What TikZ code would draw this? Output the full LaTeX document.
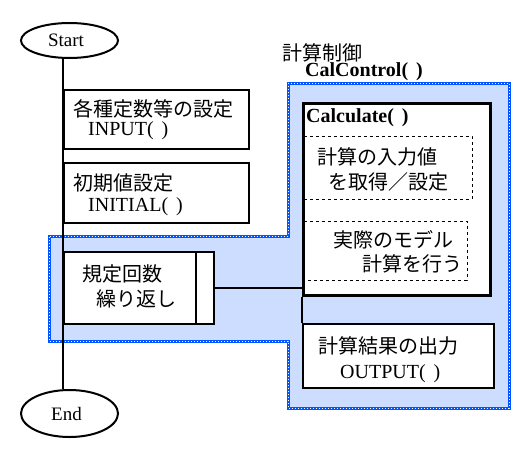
\documentclass[tikz,border=0pt]{standalone}
\usepackage{fontspec}
\setmainfont{Liberation Serif}
\newfontfamily\jp{Noto Sans CJK JP}
\usetikzlibrary{shapes.geometric}
\definecolor{bluefill}{RGB}{204,221,255}
\definecolor{blueedge}{RGB}{0,85,255}
\newcommand{\pp}{(\hspace{8pt})}
\begin{document}
\begin{tikzpicture}[x=1pt,y=-1pt,
  box/.style={draw,line width=2pt,fill=white,inner sep=0pt,anchor=north west},
  term/.style={draw,ellipse,line width=2pt,fill=white,inner sep=0pt,font=\fontsize{19}{21}\selectfont},
  jtxt/.style={inner sep=0pt,anchor=west,font=\jp\fontsize{20}{22}\selectfont},
  ltxt/.style={inner sep=0pt,anchor=west,font=\fontsize{20}{22}\selectfont},
  btxt/.style={inner sep=0pt,anchor=west,font=\bfseries\fontsize{20}{22}\selectfont},
  dline/.style={line width=1pt,dash pattern=on 3pt off 3pt},
  conn/.style={line width=2pt}]
\useasboundingbox (0,0) rectangle (530,450);
% blue region
\fill[bluefill] (288,83) -- (509,83) -- (509,408) -- (288,408) -- (288,341) -- (49,341) -- (49,236) -- (288,236) -- cycle;
\draw[blueedge,line width=3pt] (288,83) -- (509,83) -- (509,408) -- (288,408) -- (288,341) -- (49,341) -- (49,236) -- (288,236) -- cycle;
\draw[white,line width=1pt,dash pattern=on 1pt off 2pt] (288,83) -- (509,83) -- (509,408) -- (288,408) -- (288,341) -- (49,341) -- (49,236) -- (288,236) -- cycle;
% terminals
\node[term,minimum width=97pt,minimum height=35pt] (start) at (69.5,40.5) {\hspace{-7pt}Start};
\node[term,minimum width=97pt,minimum height=47pt] (end) at (69.5,413.5) {\hspace{-6pt}End};
% left boxes
\node[box,minimum width=185pt,minimum height=59pt] (input) at (63,89) {};
\node[jtxt] (inputj) at (73,109) {各種定数等の設定};
\node[ltxt] (inputl) at (88,131) {INPUT\pp};
\node[box,minimum width=185pt,minimum height=60pt] (initial) at (63,162) {};
\node[jtxt] (initj) at (73,183) {初期値設定};
\node[ltxt] (initl) at (88,207) {INITIAL\pp};
\node[box,minimum width=150pt,minimum height=72pt] (loop) at (63,251) {};
\draw[conn] ([xshift=-19pt]loop.north east) -- ([xshift=-19pt]loop.south east);
\node[jtxt] (loopj1) at (82,274) {規定回数};
\node[jtxt] (loopj2) at (96,299) {繰り返し};
% label
\node[jtxt] (ctrlj) at (282,53) {計算制御};
\node[btxt] (ctrll) at (305,72) {CalControl\pp};
% calculate box
\node[box,line width=3pt,minimum width=187pt,minimum height=192pt] (calc) at (302,102) {};
\node[btxt] (calcl) at (306,118) {Calculate\pp};
\coordinate (d1a) at (304,136);
\coordinate (d1b) at (472,199);
\draw[dline] (d1a) -- (d1a -| d1b) -- (d1b) -- (d1b -| d1a);
\node[jtxt] (d1j1) at (317,157) {計算の入力値};
\node[jtxt] (d1j2) at (328,182) {を取得／設定};
\coordinate (d2a) at (304,221);
\coordinate (d2b) at (467,280);
\draw[dline] (d2a) -- (d2a -| d2b) -- (d2b) -- (d2b -| d2a);
\node[jtxt] (d2j1) at (333,240) {実際のモデル};
\node[jtxt] (d2j2) at (362,264) {計算を行う};
% output box
\node[box,minimum width=191pt,minimum height=64pt] (output) at (302,323) {};
\node[jtxt] (outj) at (318,346) {計算結果の出力};
\node[ltxt] (outl) at (340,374) {OUTPUT\pp};
% connectors
\draw[conn] (start.south -| input.west) -- (end.north -| input.west);
\draw[conn] (loop.east) -- (loop.east -| calc.west);
\draw[conn] (calc.south west) -- (output.north west);
\end{tikzpicture}
\end{document}
